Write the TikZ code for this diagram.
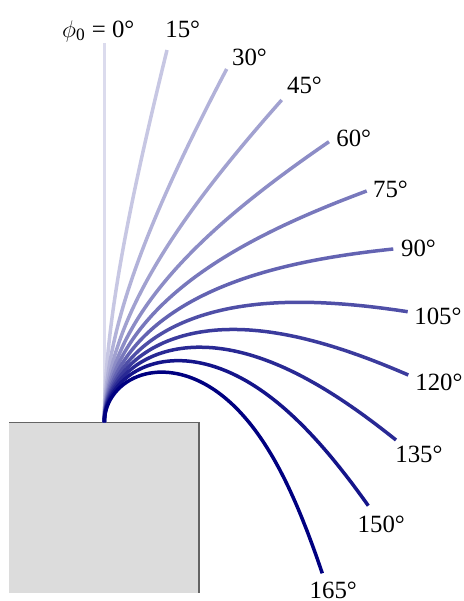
\documentclass[tikz,border=0pt]{standalone}
\usepackage{fontspec}
\setmainfont{Liberation Serif}
\definecolor{navyc}{RGB}{0,0,128}
\definecolor{boxfill}{RGB}{220,220,220}
\definecolor{boxline}{RGB}{100,100,100}
\newcommand{\elIter}[1]{%
  \pgfmathsetmacro{\elK}{\elP/(sin(#1/2)-sin(\elU/2))}%
  \pgfmathsetmacro{\elL}{\elA+\elK*(cos(\elU/2)-cos(#1/2))}%
  \pgfmathsetmacro{\elU}{4*atan(tan(#1/4)*exp(-2*\elL/\elK))}%
}
\newcommand{\elCurve}[4]{% psi, tip x, tip y, colour percentage
  \pgfmathsetmacro{\elX}{#2-104.3}%
  \pgfmathsetmacro{\elY}{422.3-#3}%
  \pgfmathsetmacro{\elA}{\elX*sin(#1)+\elY*cos(#1)}%
  \pgfmathsetmacro{\elP}{-\elX*cos(#1)+\elY*sin(#1)}%
  \def\elU{0}%
  \elIter{#1}\elIter{#1}\elIter{#1}\elIter{#1}\elIter{#1}\elIter{#1}\elIter{#1}%
  \pgfmathsetmacro{\elSp}{sin(#1)}%
  \pgfmathsetmacro{\elCp}{cos(#1)}%
  \pgfmathsetmacro{\elSh}{sin(#1/2)}%
  \pgfmathsetmacro{\elCh}{cos(#1/2)}%
  \pgfmathsetmacro{\elT}{tan(#1/4)}%
  \draw[rod,color=navyc!#4!white] plot[variable=\s,domain=0:\elL,samples=90,smooth]
   ({104.3+(\s-\elK*(cos(2*atan(\elT*exp(-2*\s/\elK)))-\elCh))*\elSp-\elK*(\elSh-sin(2*atan(\elT*exp(-2*\s/\elK))))*\elCp},
    {422.3-((\s-\elK*(cos(2*atan(\elT*exp(-2*\s/\elK)))-\elCh))*\elCp+\elK*(\elSh-sin(2*atan(\elT*exp(-2*\s/\elK))))*\elSp)});
}
\begin{document}
\begin{tikzpicture}[x=0.5pt,y=-0.5pt,
  rod/.style={line width=1.75pt},
  lbl/.style={anchor=base west,inner sep=0pt,font=\fontsize{12.4}{14}\selectfont}]
\useasboundingbox (0,0) rectangle (464,601);
% base block
\fill[boxfill] (9.3,422.3) rectangle (199,593.3);
\draw[boxline,line width=0.7pt] (9.3,422.3) -- (199,422.3) -- (199,593.3);
% rods
\coordinate (base) at (104.3,422.3);
\coordinate (tip0) at (104.3,43);
\draw[rod,color=navyc!14!white] (base) -- (tip0);
\elCurve{15}{167}{50}{22}
\elCurve{30}{226.7}{69}{30}
\elCurve{45}{281.7}{100}{37}
\elCurve{60}{329}{141.7}{45}
\elCurve{75}{366.7}{191}{53}
\elCurve{90}{393.3}{249}{61}
\elCurve{105}{407.7}{311.7}{69}
\elCurve{120}{408.3}{375}{77}
\elCurve{135}{396}{440}{84}
\elCurve{150}{368.3}{505.7}{92}
\elCurve{165}{322.3}{573.3}{100}
% labels
\node[lbl] (l0) at (61.7,37.3) {$\phi$\textsubscript{0} = 0°};
\node[lbl] (l15) at (165,37.3) {15°};
\node[lbl] (l30) at (231.7,65) {30°};
\node[lbl] (l45) at (286.7,93) {45°};
\node[lbl] (l60) at (336,146.7) {60°};
\node[lbl] (l75) at (372.7,197.3) {75°};
\node[lbl] (l90) at (400.7,256.7) {90°};
\node[lbl] (l105) at (414,324) {105°};
\node[lbl] (l120) at (415,390) {120°};
\node[lbl] (l135) at (395,462.7) {135°};
\node[lbl] (l150) at (357.3,532.7) {150°};
\node[lbl] (l165) at (309.3,598) {165°};
\end{tikzpicture}
\end{document}
